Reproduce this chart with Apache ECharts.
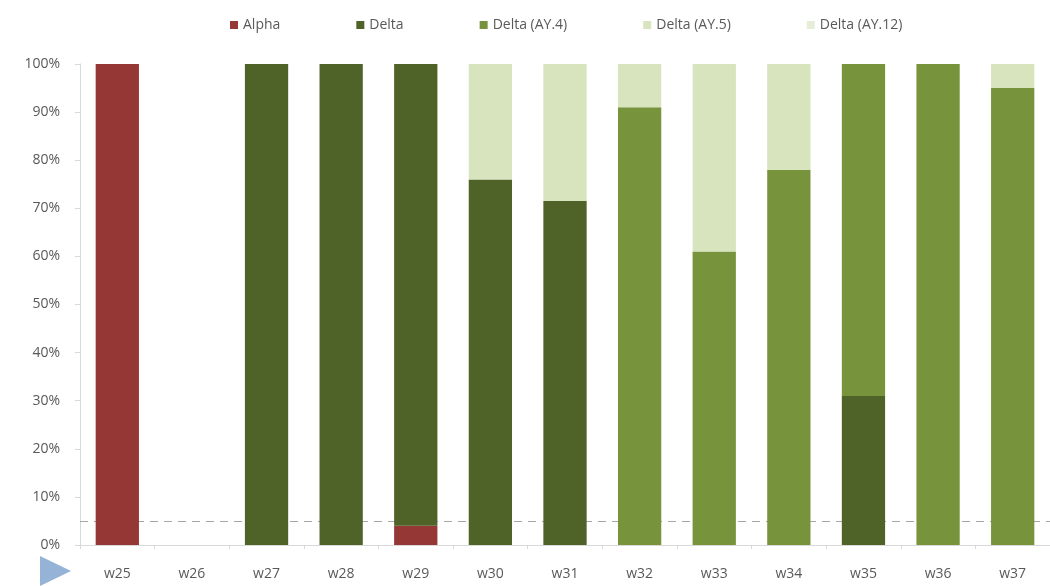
<!DOCTYPE html>
<html>
<head>
<meta charset="utf-8">
<script src="https://cdn.jsdelivr.net/npm/echarts@6/dist/echarts.min.js"></script>
<style>
  html, body { margin: 0; padding: 0; background: #fff; }
  #chart { width: 1050px; height: 586px; }
</style>
</head>
<body>
<div id="chart"></div>
<script>
// weeks on the x axis
const weeks = ['w25', 'w26', 'w27', 'w28', 'w29', 'w30', 'w31', 'w32', 'w33', 'w34', 'w35', 'w36', 'w37'];

// share of sequenced samples per variant, in %
const alpha   = [100, 0, 0,   0,   4,  0,  0,    0,  0,  0,  0,  0,  0];
const delta   = [0,   0, 100, 100, 96, 76, 71.5, 0,  0,  0,  31, 0,  0];
const deltaAY4  = [0, 0, 0,   0,   0,  0,  0,    91, 61, 78, 69, 100, 95];
const deltaAY5  = [0, 0, 0,   0,   0,  24, 28.5, 9,  39, 22, 0,  0,  5];
const deltaAY12 = [0, 0, 0,   0,   0,  0,  0,    0,  0,  0,  0,  0,  0];

const yTicks = [0, 10, 20, 30, 40, 50, 60, 70, 80, 90, 100];
const threshold = 5;

const chart = echarts.init(document.getElementById('chart'));

const font = 'Open Sans';
const textGrey = '#595959';

function bar(name, data, color) {
  return {
    name: name,
    type: 'bar',
    stack: 'total',
    barWidth: '58%',
    z: 3,
    itemStyle: { color: color },
    data: data
  };
}

const option = {
  animation: false,
  textStyle: { fontFamily: font },
  legend: {
    top: 13,
    left: 225,
    itemWidth: 8,
    itemHeight: 8,
    itemGap: 76,
    icon: 'rect',
    textStyle: { color: textGrey, fontSize: 14, fontFamily: font },
    data: ['Alpha', 'Delta', 'Delta (AY.4)', 'Delta (AY.5)', 'Delta (AY.12)']
  },
  grid: {
    left: 80,
    right: -12,
    top: 64,
    bottom: 41
  },
  xAxis: {
    type: 'category',
    data: weeks,
    axisLine: { lineStyle: { color: '#d9d9d9' } },
    axisTick: { show: true, length: 4, lineStyle: { color: '#d9d9d9' } },
    axisLabel: { color: textGrey, fontSize: 14, margin: 22, fontFamily: font }
  },
  yAxis: {
    type: 'value',
    min: 0,
    max: 100,
    interval: 10,
    axisLine: { show: true, lineStyle: { color: '#d9d9d9' } },
    axisTick: { show: true, length: 5, lineStyle: { color: '#d9d9d9' } },
    splitLine: { show: false },
    axisLabel: {
      color: textGrey,
      fontSize: 14,
      margin: 20,
      fontFamily: font,
      formatter: function (v) { return yTicks.indexOf(v) >= 0 ? v + '%' : ''; }
    }
  },
  series: [
    bar('Alpha', alpha, '#953735'),
    bar('Delta', delta, '#4f6228'),
    bar('Delta (AY.4)', deltaAY4, '#77933c'),
    bar('Delta (AY.5)', deltaAY5, '#d7e4bd'),
    bar('Delta (AY.12)', deltaAY12, '#e6eed7'),
    {
      name: 'threshold',
      type: 'line',
      data: [],
      z: 1,
      markLine: {
        z: 1,
        silent: true,
        symbol: 'none',
        label: { show: false },
        lineStyle: { color: '#a6a6a6', type: [8, 6], width: 1 },
        data: [{ yAxis: threshold }]
      }
    }
  ],
  graphic: [
    {
      type: 'polygon',
      shape: { points: [[40, 556], [40, 586], [71, 571]] },
      style: { fill: '#95b3d7' }
    }
  ]
};

chart.setOption(option);
</script>
</body>
</html>
